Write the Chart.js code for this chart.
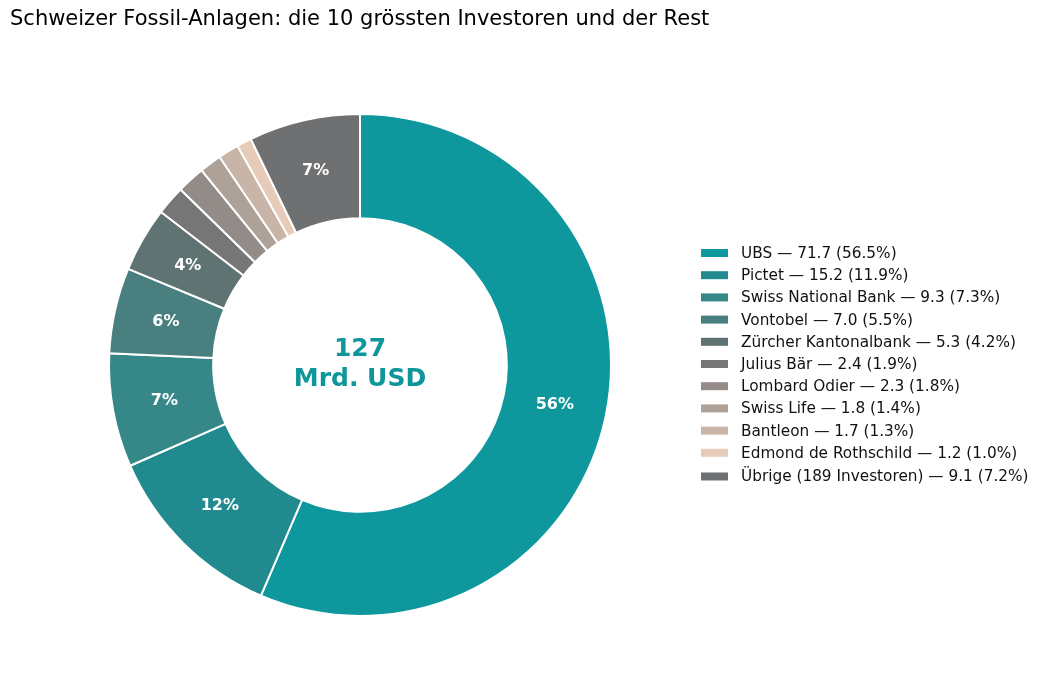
<!DOCTYPE html>
<html><head><meta charset="utf-8">
<script src="https://cdn.jsdelivr.net/npm/chart.js@4/dist/chart.umd.min.js"></script>
<style>html,body{margin:0;padding:0;background:#fff;}#wrap{width:1044px;height:690px;position:relative;}</style>
</head><body><div id="wrap"><canvas id="c" width="1044" height="690"></canvas></div>
<script>
const titleText = "Schweizer Fossil-Anlagen: die 10 grössten Investoren und der Rest";
const investors = ["UBS","Pictet","Swiss National Bank","Vontobel","Zürcher Kantonalbank","Julius Bär","Lombard Odier","Swiss Life","Bantleon","Edmond de Rothschild","Übrige (189 Investoren)"];
const values = [71.7,15.2,9.3,7.0,5.3,2.4,2.3,1.8,1.7,1.2,9.1];
const shares = [56.5,11.9,7.3,5.5,4.2,1.9,1.8,1.4,1.3,1.0,7.2];
const sliceLabels = ["56%","12%","7%","6%","4%","","","","","","7%"];
const colors = ["#0e979c","#208a8e","#368788","#4a7f7f","#5f7373","#767676","#938b88","#ada198","#c8b5a8","#e6cbb8","#6f7072"];
const centerLines = ["127","Mrd. USD"];

const FONT = "'DejaVu Sans', sans-serif";

const overlay = {
  id: 'overlay',
  afterDraw(chart) {
    const ctx = chart.ctx;
    ctx.save();
    // title
    ctx.fillStyle = '#000';
    ctx.font = '21px ' + FONT;
    ctx.textAlign = 'left';
    ctx.textBaseline = 'middle';
    ctx.fillText(titleText, 10, 20);
    // slice labels
    const meta = chart.getDatasetMeta(0);
    meta.data.forEach((arc, i) => {
      const t = sliceLabels[i];
      if (!t) return;
      const p = arc.tooltipPosition();
      ctx.fillStyle = '#fff';
      ctx.font = 'bold 16px ' + FONT;
      ctx.textAlign = 'center';
      ctx.textBaseline = 'middle';
      ctx.fillText(t, p.x, p.y);
    });
    // center text
    const a0 = meta.data[0];
    ctx.fillStyle = '#0e969b';
    ctx.font = 'bold 25px ' + FONT;
    ctx.textAlign = 'center';
    ctx.textBaseline = 'middle';
    ctx.fillText(centerLines[0], a0.x, a0.y - 16);
    ctx.fillText(centerLines[1], a0.x, a0.y + 14);
    // legend
    ctx.font = '15.3px ' + FONT;
    ctx.textAlign = 'left';
    investors.forEach((name, i) => {
      const y = 253 + i * 22.2 + (i === 10 ? 1.5 : 0);
      ctx.fillStyle = colors[i];
      ctx.fillRect(701, y - 4, 27, 8);
      ctx.fillStyle = '#111';
      ctx.fillText(name + ' — ' + values[i].toFixed(1) + ' (' + shares[i].toFixed(1) + '%)', 741, y + 1);
    });
    ctx.restore();
  }
};

new Chart(document.getElementById('c'), {
  type: 'doughnut',
  data: {
    labels: investors,
    datasets: [{
      data: values,
      backgroundColor: colors,
      borderColor: '#ffffff',
      borderWidth: 2,
      hoverOffset: 0
    }]
  },
  options: {
    responsive: false,
    animation: false,
    cutout: '58.5%',
    layout: { padding: { left: 108, right: 432, top: 113, bottom: 73 } },
    plugins: { legend: { display: false }, tooltip: { enabled: false }, title: { display: false } }
  },
  plugins: [overlay]
});
</script></body></html>
